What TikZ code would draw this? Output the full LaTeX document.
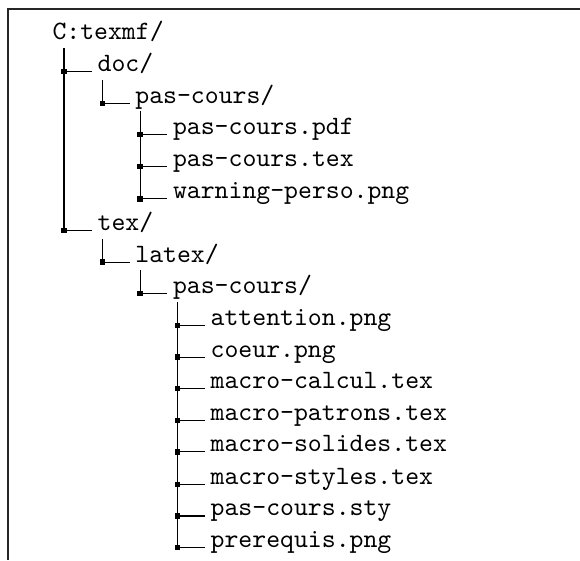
\documentclass[tikz,border=0pt]{standalone}
\newcommand{\dirbranch}[3][0.07]{\draw ([xshift=#1cm,yshift=-0.11cm]#2.base west) |- node[sq]{} ([xshift=-0.07cm]#3.base west);}
\begin{document}
\begin{tikzpicture}
\tikzstyle{every node}=[anchor=base west, inner sep=0pt, font=\ttfamily]
\tikzstyle{sq}=[anchor=center, fill=black, minimum size=2pt, inner sep=0pt]
\useasboundingbox (0,0) rectangle (7.70,-7.44);
% frame
\coordinate (NW) at (0.106,-0.12);
\coordinate (NE) at (7.70,-0.12);
\coordinate (SW) at (0.106,-7.44);
\draw[line width=0.6pt, black!85] (NE) -- (NW) -- (SW);
% tree
\node (texmf) at (0.69,-0.53) {C:texmf/};
\node (doc) at (1.29,-0.95) {doc/};
\node (docpc) at (1.79,-1.37) {pas-cours/};
\node (pdf) at (2.29,-1.79) {pas-cours.pdf};
\node (doctex) at (2.29,-2.21) {pas-cours.tex};
\node (warn) at (2.29,-2.64) {warning-perso.png};
\node (tex) at (1.29,-3.06) {tex/};
\node (latex) at (1.79,-3.48) {latex/};
\node (texpc) at (2.29,-3.90) {pas-cours/};
\node (att) at (2.79,-4.32) {attention.png};
\node (coeur) at (2.79,-4.74) {coeur.png};
\node (calc) at (2.79,-5.16) {macro-calcul.tex};
\node (patr) at (2.79,-5.58) {macro-patrons.tex};
\node (sol) at (2.79,-6.00) {macro-solides.tex};
\node (styl) at (2.79,-6.43) {macro-styles.tex};
\node (sty) at (2.79,-6.85) {pas-cours.sty};
\node (prer) at (2.79,-7.27) {prerequis.png};
\dirbranch[0.16]{texmf}{doc}
\dirbranch[0.16]{texmf}{tex}
\dirbranch{doc}{docpc}
\dirbranch{docpc}{pdf}
\dirbranch{docpc}{doctex}
\dirbranch{docpc}{warn}
\dirbranch{tex}{latex}
\dirbranch{latex}{texpc}
\dirbranch{texpc}{att}
\dirbranch{texpc}{coeur}
\dirbranch{texpc}{calc}
\dirbranch{texpc}{patr}
\dirbranch{texpc}{sol}
\dirbranch{texpc}{styl}
\dirbranch{texpc}{sty}
\dirbranch{texpc}{prer}
\end{tikzpicture}
\end{document}
